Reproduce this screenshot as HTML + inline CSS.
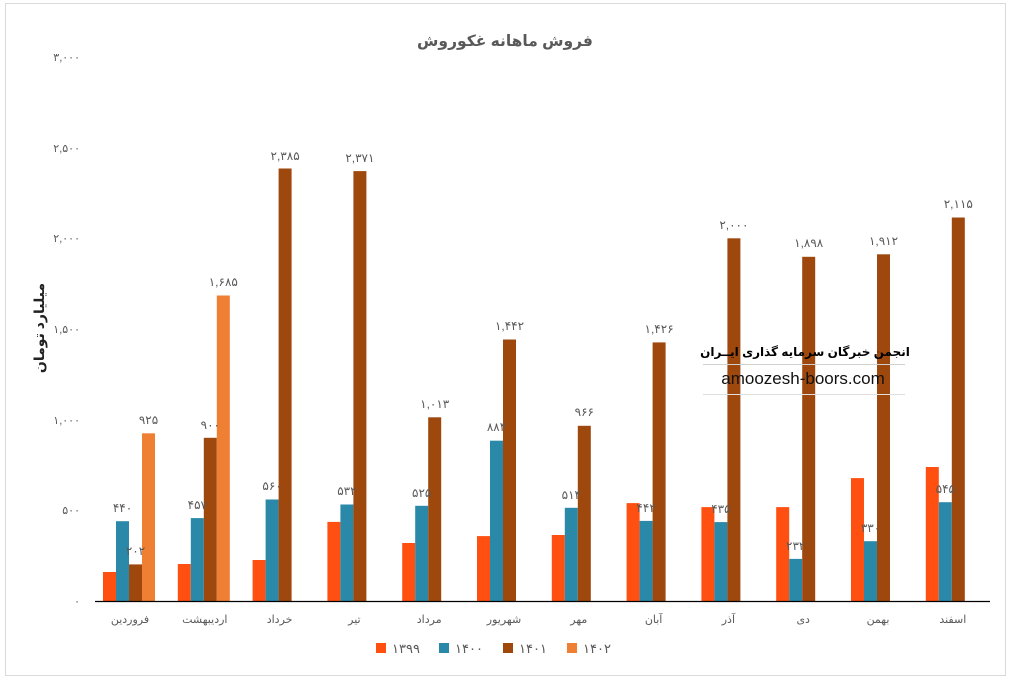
<!DOCTYPE html>
<html><head><meta charset="utf-8"><style>
body{margin:0;background:#fff;width:1011px;height:682px;overflow:hidden}
svg{display:block}
text{font-family:"Liberation Sans","Noto Sans CJK SC","DejaVu Sans",sans-serif}
</style></head><body>
<svg width="1011" height="682" viewBox="0 0 1011 682">
<rect x="5.5" y="3.5" width="1000" height="672" fill="#fff" stroke="#d9d9d9"/>
<text x="505" y="46" text-anchor="middle" font-size="15.5" font-weight="bold" fill="#595959">فروش ماهانه غکوروش</text>
<g font-size="11" fill="#595959" text-anchor="end">
<text x="80" y="605">۰</text>
<text x="80" y="514">۵۰۰</text>
<text x="80" y="424">۱,۰۰۰</text>
<text x="80" y="333">۱,۵۰۰</text>
<text x="80" y="242">۲,۰۰۰</text>
<text x="80" y="152">۲,۵۰۰</text>
<text x="80" y="61">۳,۰۰۰</text>
</g>
<text transform="translate(44,328) rotate(-90)" text-anchor="middle" font-size="14" font-weight="bold" fill="#222">میلیارد تومان</text>
<g fill="#FF5012">
<rect x="103" y="572" width="13" height="29"/>
<rect x="177.8" y="564" width="13" height="37"/>
<rect x="252.6" y="560" width="13" height="41"/>
<rect x="327.4" y="521.9" width="13" height="79.1"/>
<rect x="402.2" y="543" width="13" height="58"/>
<rect x="477" y="536.1" width="13" height="64.9"/>
<rect x="551.8" y="535" width="13" height="66"/>
<rect x="626.6" y="503.1" width="13" height="97.9"/>
<rect x="701.4" y="507.1" width="13" height="93.9"/>
<rect x="776.2" y="507.1" width="13" height="93.9"/>
<rect x="851" y="478.1" width="13" height="122.9"/>
<rect x="925.8" y="467" width="13" height="134"/>
</g>
<g fill="#2A89A8">
<rect x="116" y="521.2" width="13" height="79.8"/>
<rect x="190.8" y="518.1" width="13" height="82.9"/>
<rect x="265.6" y="499.5" width="13" height="101.5"/>
<rect x="340.4" y="504.5" width="13" height="96.5"/>
<rect x="415.2" y="505.8" width="13" height="95.2"/>
<rect x="490" y="440.7" width="13" height="160.3"/>
<rect x="564.8" y="507.8" width="13" height="93.2"/>
<rect x="639.6" y="520.9" width="13" height="80.1"/>
<rect x="714.4" y="522.1" width="13" height="78.9"/>
<rect x="789.2" y="558.9" width="13" height="42.1"/>
<rect x="864" y="541.2" width="13" height="59.8"/>
<rect x="938.8" y="502.2" width="13" height="98.8"/>
</g>
<g fill="#9E480E">
<rect x="129" y="564.4" width="13" height="36.6"/>
<rect x="203.8" y="437.8" width="13" height="163.2"/>
<rect x="278.6" y="168.5" width="13" height="432.5"/>
<rect x="353.4" y="171.1" width="13" height="429.9"/>
<rect x="428.2" y="417.3" width="13" height="183.7"/>
<rect x="503" y="339.5" width="13" height="261.5"/>
<rect x="577.8" y="425.8" width="13" height="175.2"/>
<rect x="652.6" y="342.4" width="13" height="258.6"/>
<rect x="727.4" y="238.3" width="13" height="362.7"/>
<rect x="802.2" y="256.8" width="13" height="344.2"/>
<rect x="877" y="254.3" width="13" height="346.7"/>
<rect x="951.8" y="217.5" width="13" height="383.5"/>
</g>
<g fill="#EE7F33">
<rect x="142" y="433.3" width="13" height="167.7"/>
<rect x="216.8" y="295.5" width="13" height="305.5"/>
</g>
<line x1="95" y1="601.5" x2="990" y2="601.5" stroke="#000" stroke-width="1.3"/>
<g font-size="12" fill="#595959" text-anchor="middle">
<text x="122.5" y="512">۴۴۰</text>
<text x="197.3" y="509">۴۵۷</text>
<text x="272.1" y="490">۵۶۰</text>
<text x="346.9" y="495">۵۳۲</text>
<text x="421.7" y="497">۵۲۵</text>
<text x="496.5" y="431">۸۸۴</text>
<text x="571.3" y="499">۵۱۴</text>
<text x="646.1" y="512">۴۴۲</text>
<text x="720.9" y="513">۴۳۵</text>
<text x="795.7" y="550">۲۳۲</text>
<text x="870.5" y="532">۳۳۰</text>
<text x="945.3" y="493">۵۴۵</text>
<text x="135.5" y="555">۲۰۲</text>
<text x="210.3" y="429">۹۰۰</text>
<text x="285.1" y="160">۲,۳۸۵</text>
<text x="359.9" y="162">۲,۳۷۱</text>
<text x="434.7" y="408">۱,۰۱۳</text>
<text x="509.5" y="330">۱,۴۴۲</text>
<text x="584.3" y="416">۹۶۶</text>
<text x="659.1" y="333">۱,۴۲۶</text>
<text x="733.9" y="229">۲,۰۰۰</text>
<text x="808.7" y="247">۱,۸۹۸</text>
<text x="883.5" y="245">۱,۹۱۲</text>
<text x="958.3" y="208">۲,۱۱۵</text>
<text x="148.5" y="424">۹۲۵</text>
<text x="223.3" y="286">۱,۶۸۵</text>
</g>
<g font-size="11" fill="#595959" text-anchor="middle">
<text x="130" y="623">فروردین</text>
<text x="204.8" y="623">اردیبهشت</text>
<text x="279.6" y="623">خرداد</text>
<text x="354.4" y="623">تیر</text>
<text x="429.2" y="623">مرداد</text>
<text x="504" y="623">شهریور</text>
<text x="578.8" y="623">مهر</text>
<text x="653.6" y="623">آبان</text>
<text x="728.4" y="623">آذر</text>
<text x="803.2" y="623">دی</text>
<text x="878" y="623">بهمن</text>
<text x="952.8" y="623">اسفند</text>
</g>
<g font-size="13" fill="#595959">
<rect x="376" y="643" width="10" height="10" fill="#FF5012"/><text x="392" y="653">۱۳۹۹</text>
<rect x="439" y="643" width="10" height="10" fill="#2A89A8"/><text x="455" y="653">۱۴۰۰</text>
<rect x="503" y="643" width="10" height="10" fill="#9E480E"/><text x="519" y="653">۱۴۰۱</text>
<rect x="567" y="643" width="10" height="10" fill="#EE7F33"/><text x="583" y="653">۱۴۰۲</text>
</g>
<line x1="703" y1="364.5" x2="905" y2="364.5" stroke="#d0d0d0"/>
<line x1="703" y1="394.5" x2="905" y2="394.5" stroke="#e0e0e0"/>
<text x="805" y="356" text-anchor="middle" font-size="12" font-weight="bold" fill="#000">انجمن خبرگان سرمایه گذاری ایــران</text>
<text x="803" y="384" text-anchor="middle" font-size="17" fill="#111" font-family="Liberation Serif, serif">amoozesh-boors.com</text>
</svg>
</body></html>
